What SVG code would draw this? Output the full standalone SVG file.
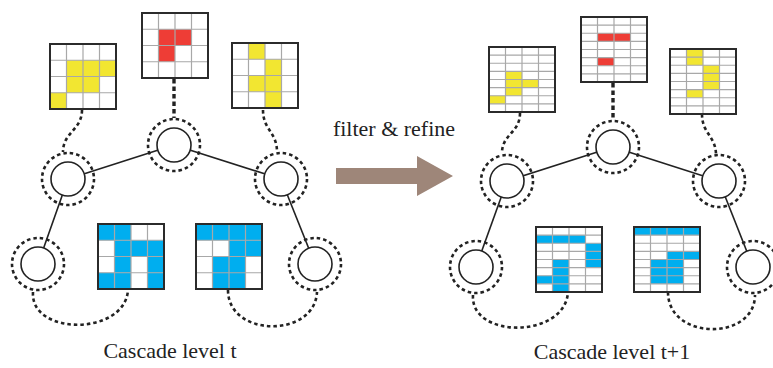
<svg xmlns="http://www.w3.org/2000/svg" width="773" height="368" viewBox="0 0 773 368">
<style>
.y{fill:#F2E631}.r{fill:#EE3D36}.b{fill:#00AEEF}
.gl{fill:none;stroke:#A8A8A8;stroke-width:1.2}
.bd{fill:none;stroke:#2B2B2B;stroke-width:2}
.edge{stroke:#222;stroke-width:1.6;fill:none}
.dash{fill:none;stroke:#222;stroke-width:2.6;stroke-dasharray:3.5 3}
.vdash{fill:none;stroke:#222;stroke-width:3.4;stroke-dasharray:4.5 3}
.ring{fill:none;stroke:#222;stroke-width:2.6;stroke-dasharray:3.5 3}
.node{fill:#fff;stroke:#222;stroke-width:1.6}
</style>
<defs>
<path id="g4" class="gl" d="M16.5,0V65M33,0V65M49.5,0V65M0,16.25H66M0,32.5H66M0,48.75H66"/>
<path id="g8" class="gl" d="M16.5,0V65M33,0V65M49.5,0V65M0,8.125H66M0,16.25H66M0,24.375H66M0,32.5H66M0,40.625H66M0,48.75H66M0,56.875H66"/>
</defs>

<g id="connectors">
<line class="edge" x1="68" y1="179" x2="174" y2="145"/>
<line class="edge" x1="174" y1="145" x2="281" y2="179"/>
<line class="edge" x1="68" y1="179" x2="38" y2="264"/>
<line class="edge" x1="281" y1="179" x2="315" y2="264"/>
<line class="edge" x1="507" y1="181" x2="613" y2="147"/>
<line class="edge" x1="613" y1="147" x2="719" y2="181"/>
<line class="edge" x1="507" y1="181" x2="476" y2="267"/>
<line class="edge" x1="719" y1="181" x2="753" y2="267"/>
<path class="dash" d="M82,110 C82,130 63,132 63,152"/>
<path class="vdash" d="M174,79 L174,118"/>
<path class="dash" d="M263,110 C263,130 277,132 277,152"/>
<path class="dash" d="M33,292 C30,336 125,336 128,290"/>
<path class="dash" d="M228,290 C228,338 315,338 317,292"/>
<path class="dash" d="M520,113 C520,133 502,134 502,153"/>
<path class="vdash" d="M613,83 L613,120"/>
<path class="dash" d="M702,114 C702,134 716,136 716,155"/>
<path class="dash" d="M473,295 C470,339 565,339 568,292"/>
<path class="dash" d="M668,292 C668,341 755,341 755,295"/>
</g>

<g id="n-l-top"><circle class="ring" cx="174" cy="145" r="26"/><circle class="node" cx="174" cy="145" r="17"/></g>
<g id="n-l-left"><circle class="ring" cx="68" cy="179" r="26"/><circle class="node" cx="68" cy="179" r="17"/></g>
<g id="n-l-right"><circle class="ring" cx="281" cy="179" r="26"/><circle class="node" cx="281" cy="179" r="17"/></g>
<g id="n-l-bl"><circle class="ring" cx="38" cy="264" r="26"/><circle class="node" cx="38" cy="264" r="17"/></g>
<g id="n-l-br"><circle class="ring" cx="315" cy="264" r="26"/><circle class="node" cx="315" cy="264" r="17"/></g>

<g id="n-r-top"><circle class="ring" cx="613" cy="147" r="26"/><circle class="node" cx="613" cy="147" r="17"/></g>
<g id="n-r-left"><circle class="ring" cx="507" cy="181" r="26"/><circle class="node" cx="507" cy="181" r="17"/></g>
<g id="n-r-right"><circle class="ring" cx="719" cy="181" r="26"/><circle class="node" cx="719" cy="181" r="17"/></g>
<g id="n-r-bl"><circle class="ring" cx="476" cy="267" r="26"/><circle class="node" cx="476" cy="267" r="17"/></g>
<g id="n-r-br"><circle class="ring" cx="753" cy="267" r="26"/><circle class="node" cx="753" cy="267" r="17"/></g>

<!-- left grids -->
<g id="grid-l-tl" transform="translate(50,44)">
<rect width="66" height="65" fill="#fff"/>
<rect class="y" x="16.5" y="16.25" width="49.5" height="16.25"/>
<rect class="y" x="16.5" y="32.5" width="33" height="16.25"/>
<rect class="y" x="0" y="48.75" width="16.5" height="16.25"/>
<use href="#g4"/><rect class="bd" width="66" height="65"/>
</g>
<g id="grid-l-top" transform="translate(142,13)">
<rect width="66" height="65" fill="#fff"/>
<rect class="r" x="16.5" y="16.25" width="33" height="16.25"/>
<rect class="r" x="16.5" y="32.5" width="16.5" height="16.25"/>
<use href="#g4"/><rect class="bd" width="66" height="65"/>
</g>
<g id="grid-l-tr" transform="translate(232,43)">
<rect width="66" height="65" fill="#fff"/>
<rect class="y" x="16.5" y="0" width="16.5" height="16.25"/>
<rect class="y" x="33" y="16.25" width="16.5" height="16.25"/>
<rect class="y" x="16.5" y="32.5" width="33" height="16.25"/>
<rect class="y" x="33" y="48.75" width="16.5" height="16.25"/>
<use href="#g4"/><rect class="bd" width="66" height="65"/>
</g>
<g id="grid-l-b1" transform="translate(98,224)">
<rect width="66" height="65" fill="#fff"/>
<rect class="b" x="0" y="0" width="33" height="16.25"/>
<rect class="b" x="16.5" y="16.25" width="49.5" height="16.25"/>
<rect class="b" x="16.5" y="32.5" width="16.5" height="16.25"/>
<rect class="b" x="49.5" y="32.5" width="16.5" height="16.25"/>
<rect class="b" x="0" y="48.75" width="33" height="16.25"/>
<rect class="b" x="49.5" y="48.75" width="16.5" height="16.25"/>
<use href="#g4"/><rect class="bd" width="66" height="65"/>
</g>
<g id="grid-l-b2" transform="translate(196,224)">
<rect width="66" height="65" fill="#fff"/>
<rect class="b" x="0" y="0" width="66" height="16.25"/>
<rect class="b" x="33" y="16.25" width="33" height="16.25"/>
<rect class="b" x="16.5" y="32.5" width="33" height="32.5"/>
<use href="#g4"/><rect class="bd" width="66" height="65"/>
</g>

<!-- right grids -->
<g id="grid-r-tl" transform="translate(489,47)">
<rect width="66" height="65" fill="#fff"/>
<rect class="y" x="16.5" y="24.375" width="16.5" height="24.375"/>
<rect class="y" x="33" y="32.5" width="16.5" height="8.125"/>
<rect class="y" x="0" y="48.75" width="16.5" height="8.125"/>
<use href="#g8"/><rect class="bd" width="66" height="65"/>
</g>
<g id="grid-r-top" transform="translate(581,17)">
<rect width="66" height="65" fill="#fff"/>
<rect class="r" x="16.5" y="16.25" width="33" height="8.125"/>
<rect class="r" x="16.5" y="40.625" width="16.5" height="8.125"/>
<use href="#g8"/><rect class="bd" width="66" height="65"/>
</g>
<g id="grid-r-tr" transform="translate(670,49)">
<rect width="66" height="65" fill="#fff"/>
<rect class="y" x="16.5" y="0" width="16.5" height="16.25"/>
<rect class="y" x="33" y="16.25" width="16.5" height="24.375"/>
<rect class="y" x="16.5" y="40.625" width="16.5" height="8.125"/>
<use href="#g8"/><rect class="bd" width="66" height="65"/>
</g>
<g id="grid-r-b1" transform="translate(536,227)">
<rect width="66" height="65" fill="#fff"/>
<rect class="b" x="0" y="8.125" width="49.5" height="8.125"/>
<rect class="b" x="49.5" y="16.25" width="16.5" height="24.375"/>
<rect class="b" x="16.5" y="32.5" width="16.5" height="32.5"/>
<rect class="b" x="0" y="48.75" width="16.5" height="8.125"/>
<use href="#g8"/><rect class="bd" width="66" height="65"/>
</g>
<g id="grid-r-b2" transform="translate(634,227)">
<rect width="66" height="65" fill="#fff"/>
<rect class="b" x="0" y="0" width="66" height="8.125"/>
<rect class="b" x="33" y="24.375" width="33" height="8.125"/>
<rect class="b" x="16.5" y="32.5" width="33" height="24.375"/>
<use href="#g8"/><rect class="bd" width="66" height="65"/>
</g>

<g id="arrow">
<polygon points="336,168 417,168 417,156 453,176 417,196 417,184 336,184" fill="#9E8679"/>
<text x="394" y="136" text-anchor="middle" font-family="'Liberation Serif', 'DejaVu Serif', serif" font-size="22" fill="#222">filter &amp; refine</text>
</g>
<text x="170" y="358" text-anchor="middle" font-family="'Liberation Serif', 'DejaVu Serif', serif" font-size="22" fill="#222">Cascade level t</text>
<text x="612" y="359" text-anchor="middle" font-family="'Liberation Serif', 'DejaVu Serif', serif" font-size="22" fill="#222">Cascade level t+1</text>
</svg>
